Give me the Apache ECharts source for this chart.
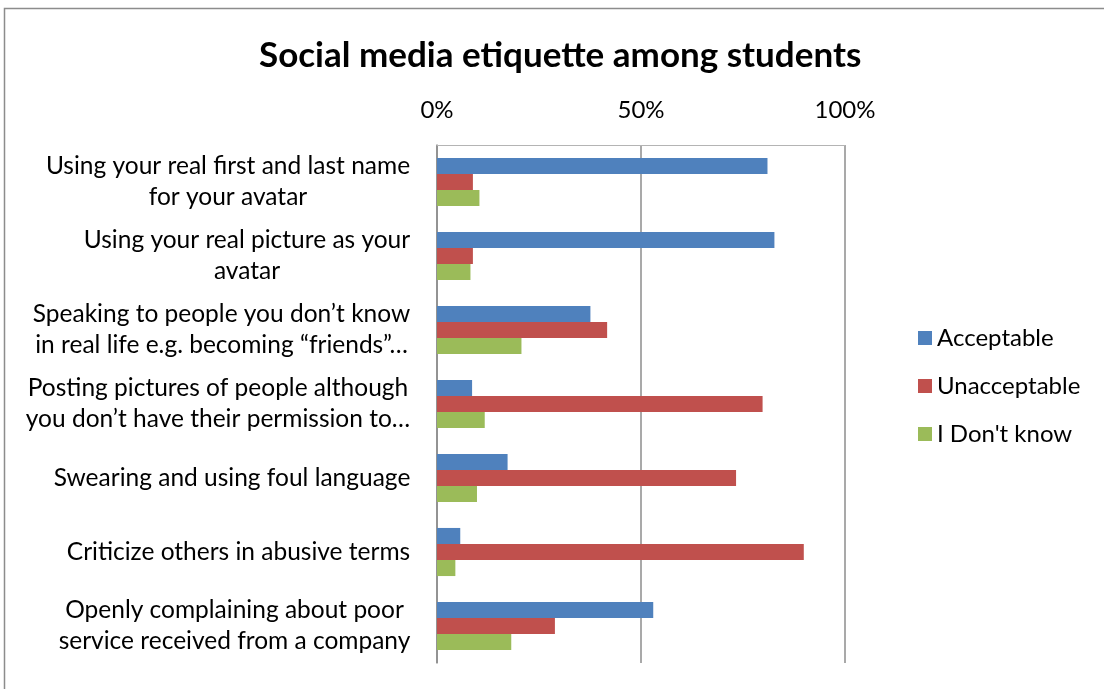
<!DOCTYPE html>
<html>
<head>
<meta charset="utf-8">
<script src="https://cdn.jsdelivr.net/npm/echarts@6/dist/echarts.min.js"></script>
<style>
html,body{margin:0;padding:0;background:#fff;}
#chart{width:1104px;height:689px;}
</style>
</head>
<body>
<div id="chart"></div>
<script>
const categories = [
  "Using your real first and last name\nfor your avatar",
  "Using your real picture as your\navatar",
  "Speaking to people you don\u2019t know\nin real life e.g. becoming \u201cfriends\u201d\u2026",
  "Posting pictures of people although\nyou don\u2019t have their permission to\u2026",
  "Swearing and using foul language",
  "Criticize others in abusive terms",
  "Openly complaining about poor\nservice received from a company"
];
const seriesNames = ["Acceptable", "Unacceptable", "I Don't know"];
const acceptable = [81.0, 82.7, 37.6, 8.6, 17.3, 5.7, 53.0];
const unacceptable = [8.8, 8.8, 41.7, 79.8, 73.3, 89.9, 28.9];
const dontKnow = [10.4, 8.2, 20.7, 11.7, 9.8, 4.5, 18.2];
const xTicks = [0, 50, 100];

const FONT = 'Lato';
const LABEL_SIZE = 24.5;
const colors = ['#4F81BD', '#C0504D', '#9BBB59'];

const ctx = document.createElement('canvas').getContext('2d');
ctx.font = LABEL_SIZE + 'px ' + FONT;
const rich = {};
categories.forEach((c, i) => {
  const w = Math.max(...c.split('\n').map(l => ctx.measureText(l).width));
  rich['c' + i] = {width: Math.ceil(w) + 1, align: 'center', fontSize: LABEL_SIZE, lineHeight: 31, fontFamily: FONT, color: '#000'};
});

const chart = echarts.init(document.getElementById('chart'));
chart.setOption({
  animation: false,
  backgroundColor: '#fff',
  title: {
    text: 'Social media etiquette among students',
    left: 254,
    top: 33,
    textStyle: {fontFamily: FONT, fontSize: 35, fontWeight: 'bold', color: '#000'}
  },
  graphic: [{
    type: 'rect',
    shape: {x: 4.5, y: 8.5, width: 1200, height: 800},
    style: {fill: 'none', stroke: '#8c8c8c', lineWidth: 1.5},
    silent: true
  }],
  legend: {
    orient: 'vertical',
    left: 913,
    top: 321,
    icon: 'rect',
    itemWidth: 14,
    itemHeight: 14,
    itemGap: 24,
    textStyle: {fontFamily: FONT, fontSize: 24, color: '#000'},
    data: seriesNames
  },
  grid: {left: 437, right: 259, top: 145, bottom: 26, containLabel: false},
  xAxis: {
    type: 'value',
    position: 'top',
    min: xTicks[0],
    max: xTicks[xTicks.length - 1],
    interval: xTicks[1] - xTicks[0],
    axisLine: {show: true, lineStyle: {color: '#b4b4b4', width: 1}},
    axisTick: {show: false},
    axisLabel: {formatter: '{value}%', fontFamily: FONT, fontSize: 24, color: '#000', margin: 23},
    splitLine: {show: true, lineStyle: {color: '#8c8c8c', width: 1.5}}
  },
  yAxis: {
    type: 'category',
    inverse: true,
    data: categories,
    axisLine: {show: true, lineStyle: {color: '#8c8c8c', width: 1.5}},
    axisTick: {show: false},
    axisLabel: {
      margin: 26,
      align: 'right',
      formatter: (v, i) => v.split('\n').map(l => '{c' + i + '|' + l + '}').join('\n'),
      rich: rich
    }
  },
  series: [
    {name: seriesNames[0], type: 'bar', data: acceptable, itemStyle: {color: colors[0]}, barGap: '0%', barCategoryGap: '35%'},
    {name: seriesNames[1], type: 'bar', data: unacceptable, itemStyle: {color: colors[1]}, barGap: '0%', barCategoryGap: '35%'},
    {name: seriesNames[2], type: 'bar', data: dontKnow, itemStyle: {color: colors[2]}, barGap: '0%', barCategoryGap: '35%'}
  ]
});
</script>
</body>
</html>
